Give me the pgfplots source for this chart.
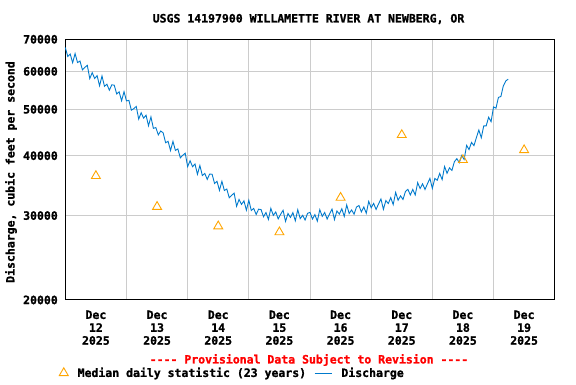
\documentclass[border=0pt]{standalone}
\usepackage{fontspec}
\setmainfont{DejaVu Sans Mono}[Ligatures=TeXOff, BoldFeatures={FakeBold=1.2}]
\usepackage{pgfplots}
\pgfplotsset{compat=1.18}
\definecolor{usgsblue}{RGB}{0,122,204}
\definecolor{usgsorange}{RGB}{255,165,0}
\definecolor{gridgray}{RGB}{204,204,204}
\pgfplotstableread{
d q
0.00 67270
0.04 64460
0.08 65220
0.12 62540
0.16 65360
0.20 62590
0.24 63040
0.28 60420
0.32 61150
0.36 61760
0.40 57940
0.44 59620
0.48 57980
0.52 58780
0.56 55970
0.60 58660
0.64 55850
0.68 56400
0.72 54800
0.76 56230
0.80 56140
0.84 53820
0.88 54380
0.92 52090
0.96 54400
1.00 52050
1.04 52190
1.08 49790
1.12 50150
1.16 50690
1.20 47690
1.24 49170
1.28 47910
1.32 48590
1.36 46200
1.40 48190
1.44 45620
1.48 45800
1.52 44210
1.56 45040
1.60 44640
1.64 42580
1.68 42870
1.72 41010
1.76 42860
1.80 41030
1.84 41330
1.88 39600
1.92 40080
1.96 40480
2.00 37970
2.04 39050
2.08 37950
2.12 38450
2.16 36580
2.20 38180
2.24 36370
2.28 36740
2.32 35700
2.36 36640
2.40 36590
2.44 35010
2.48 35370
2.52 33870
2.56 35370
2.60 33840
2.64 34090
2.68 32680
2.72 33090
2.76 33420
2.80 31370
2.84 32410
2.88 31650
2.92 32210
2.96 30790
3.00 32300
3.04 30750
3.08 31050
3.12 30160
3.16 30940
3.20 30880
3.24 29830
3.28 30440
3.32 29450
3.36 31060
3.40 30030
3.44 30530
3.48 29530
3.52 30190
3.56 30780
3.60 29170
3.64 30300
3.68 29740
3.72 30430
3.76 29260
3.80 30860
3.84 29570
3.88 30040
3.92 29370
3.96 30330
4.00 30470
4.04 29500
4.08 30140
4.12 29210
4.16 30870
4.20 29890
4.24 30450
4.28 29510
4.32 30240
4.36 30950
4.40 29430
4.44 30670
4.48 30220
4.52 31010
4.56 29880
4.60 31580
4.64 30300
4.68 30830
4.72 30200
4.76 31260
4.80 31490
4.84 30530
4.88 31260
4.92 30340
4.96 32120
5.00 31150
5.04 31810
5.08 30900
5.12 31720
5.16 32490
5.20 30910
5.24 32250
5.28 31790
5.32 32700
5.36 31620
5.40 33540
5.44 32290
5.48 32980
5.52 32420
5.56 33680
5.60 34040
5.64 33120
5.68 34020
5.72 33120
5.76 35140
5.80 34170
5.84 34950
5.88 34010
5.92 34960
5.96 35870
6.00 34190
6.04 35860
6.08 35550
6.12 36740
6.16 35660
6.20 37980
6.24 36760
6.28 37740
6.32 37270
6.36 38870
6.40 39440
6.44 38680
6.48 40040
6.52 39290
6.56 42040
6.60 41200
6.64 42640
6.68 41980
6.72 43640
6.76 45260
6.80 43610
6.84 46160
6.88 46170
6.92 48120
6.96 47100
7.00 50570
7.04 50270
7.08 52930
7.12 53170
7.16 55950
7.20 57280
7.24 57800
}\discharge
\pgfplotstableread{
d q
0.5 36300
1.5 31300
2.5 28500
3.5 27700
4.5 32700
5.5 44200
6.5 39200
7.5 41100
}\median
\begin{document}
\begin{tikzpicture}[x=1bp,y=1bp,font=\fontsize{11.5bp}{12.9bp}\selectfont\bfseries]
\path[use as bounding box] (0,0) rectangle (576,384);
\begin{axis}[
  at={(65.3bp,84bp)}, anchor=south west,
  scale only axis, width=489.4bp, height=260.7bp,
  ymode=log, xmin=0, xmax=8, ymin=20000, ymax=70000,
  ytick={20000,30000,40000,50000,60000,70000},
  yticklabels={20000,30000,40000,50000,60000,70000},
  yminorticks=false,
  xtick={0.5,1.5,2.5,3.5,4.5,5.5,6.5,7.5},
  xticklabels={{Dec\\12\\2025},{Dec\\13\\2025},{Dec\\14\\2025},{Dec\\15\\2025},{Dec\\16\\2025},{Dec\\17\\2025},{Dec\\18\\2025},{Dec\\19\\2025}},
  minor xtick={1,2,3,4,5,6,7},
  xminorgrids=true, ymajorgrids=true, xmajorgrids=false,
  grid style={gridgray, line width=1bp},
  minor grid style={gridgray, line width=1bp},
  major tick length=0pt, minor tick length=0pt,
  axis line style={black, line width=1bp},
  xticklabel style={align=center, yshift=-7bp, font=\fontsize{11.5bp}{12.9bp}\selectfont\bfseries},
  yticklabel style={xshift=-4bp, font=\fontsize{11.5bp}{12.9bp}\selectfont\bfseries},
  legend style={draw=none, fill=none, inner sep=0pt, legend columns=2,
    at={(-0.0127,-0.28)}, anchor=west,
    font=\fontsize{11.5bp}{12.9bp}\selectfont\bfseries,
    /tikz/every odd column/.append style={column sep=7.4bp},
    /tikz/every even column/.append style={column sep=6bp}},
  clip=false,
]
\addplot[only marks, mark=triangle, mark size=5.2pt, mark options={draw=usgsorange, line width=0.9bp, fill=none}] table[x=d,y=q] {\median};
\addlegendentry{Median daily statistic (23 years)}
\addplot[usgsblue, line width=0.9bp, mark=none] table[x=d,y=q] {\discharge};
\addlegendentry{Discharge}
\end{axis}
\node at (308.5,365) {USGS 14197900 WILLAMETTE RIVER AT NEWBERG, OR};
\node[text=red] at (309,24) {---- Provisional Data Subject to Revision ----};
\node[rotate=90] at (11,212) {Discharge, cubic feet per second};
\end{tikzpicture}
\end{document}
